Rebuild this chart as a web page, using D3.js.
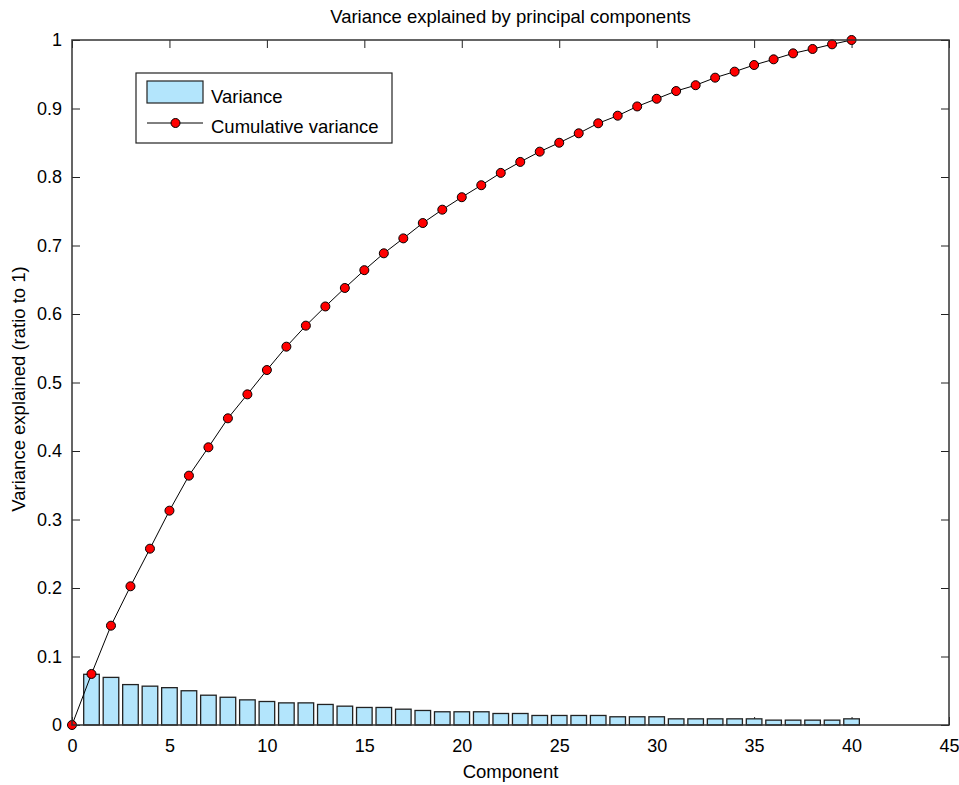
<!DOCTYPE html>
<html lang="en">
<head>
<meta charset="UTF-8">
<script src="https://d3js.org/d3.v7.min.js"></script>
<title>Variance explained</title>
<style>
    body { margin: 0; background: #fff; }
    text { font-family: "Liberation Sans", Arial, sans-serif; fill: #000; }
    .tick text { font-size: 18px; font-family: "Liberation Sans", Arial, sans-serif; }
</style>
</head>
<body>
<script>
    // per-component variance (bars)
    var variance = [0.0740, 0.0695, 0.0590, 0.0567, 0.0545, 0.0500, 0.0435, 0.0405, 0.0367, 0.0343,
                    0.0323, 0.0323, 0.0300, 0.0275, 0.0256, 0.0256, 0.0231, 0.0212, 0.0193, 0.0193,
                    0.0193, 0.0168, 0.0168, 0.0139, 0.0139, 0.0139, 0.0139, 0.0120, 0.0120, 0.0120,
                    0.0090, 0.0090, 0.0090, 0.0090, 0.0090, 0.0071, 0.0071, 0.0071, 0.0071, 0.0090]
    // cumulative variance (line), component 0..40
    var cumulative = [0, 0.0745, 0.145, 0.2025, 0.2574, 0.3129, 0.364, 0.4054, 0.4477, 0.4827, 0.5182,
                      0.5523, 0.583, 0.611, 0.638, 0.664, 0.6886, 0.7104, 0.7328, 0.7523, 0.7705,
                      0.788, 0.806, 0.822, 0.837, 0.850, 0.8638, 0.8784, 0.8895, 0.903, 0.9142,
                      0.9255, 0.934, 0.945, 0.9538, 0.9635, 0.9718, 0.9805, 0.9869, 0.9937, 1.0]
    var xTicks = [0, 5, 10, 15, 20, 25, 30, 35, 40, 45]
    var yTicks = [0, 0.1, 0.2, 0.3, 0.4, 0.5, 0.6, 0.7, 0.8, 0.9, 1]
    var legendLabels = ["Variance", "Cumulative variance"]

    var width = 959, height = 785
    var padding = { top: 40, right: 10, bottom: 60, left: 72 }
    var plotW = 949 - padding.left
    var plotH = 725 - padding.top
    var tickLen = 8

    var svg = d3.select("body").append("svg")
        .attr("width", width)
        .attr("height", height)

    var xScale = d3.scaleLinear().domain([0, 45]).range([0, plotW])
    var yScale = d3.scaleLinear().domain([0, 1]).range([plotH, 0])

    var g = svg.append("g")
        .attr("transform", "translate(" + padding.left + "," + padding.top + ")")

    var fmt = function (d) { return d3.format("~g")(d) }

    // inward ticks on all four sides (drawn first, bars cover them)
    g.append("g").attr("transform", "translate(0," + plotH + ")")
        .call(d3.axisBottom(xScale).tickValues(xTicks).tickFormat(fmt).tickSizeInner(-tickLen).tickSizeOuter(0).tickPadding(14))
    g.append("g")
        .call(d3.axisTop(xScale).tickValues(xTicks).tickFormat("").tickSizeInner(-tickLen).tickSizeOuter(0))
    g.append("g")
        .call(d3.axisLeft(yScale).tickValues(yTicks).tickFormat(fmt).tickSizeInner(-tickLen).tickSizeOuter(0).tickPadding(10))
    g.append("g").attr("transform", "translate(" + plotW + ",0)")
        .call(d3.axisRight(yScale).tickValues(yTicks).tickFormat("").tickSizeInner(-tickLen).tickSizeOuter(0))
    g.selectAll(".domain").remove()
    g.selectAll(".tick line").attr("stroke", "#222")

    // bars
    var barW = xScale(0.8) - xScale(0)
    g.selectAll("rect.bar")
        .data(variance)
        .enter().append("rect")
        .attr("class", "bar")
        .attr("x", function (d, i) { return xScale(i + 1) - barW / 2 })
        .attr("y", function (d) { return yScale(d) })
        .attr("width", barW)
        .attr("height", function (d) { return plotH - yScale(d) })
        .attr("fill", "#b3e5fc")
        .attr("stroke", "#222")
        .attr("stroke-width", 1.3)

    // cumulative line + markers
    var line = d3.line()
        .x(function (d, i) { return xScale(i) })
        .y(function (d) { return yScale(d) })
    g.append("path")
        .datum(cumulative)
        .attr("d", line)
        .attr("fill", "none")
        .attr("stroke", "#000")
        .attr("stroke-width", 1)
    g.selectAll("circle.pt")
        .data(cumulative)
        .enter().append("circle")
        .attr("class", "pt")
        .attr("cx", function (d, i) { return xScale(i) })
        .attr("cy", function (d) { return yScale(d) })
        .attr("r", 4.5)
        .attr("fill", "#ff0000")
        .attr("stroke", "#000")
        .attr("stroke-width", 1)

    // axes box
    g.append("rect")
        .attr("width", plotW).attr("height", plotH)
        .attr("fill", "none").attr("stroke", "#333").attr("stroke-width", 1.5)

    // legend
    var leg = svg.append("g").attr("transform", "translate(136,73)")
    leg.append("rect").attr("width", 256).attr("height", 70)
        .attr("fill", "#fff").attr("stroke", "#222").attr("stroke-width", 1.2)
    leg.append("rect").attr("x", 11).attr("y", 8).attr("width", 56).attr("height", 22)
        .attr("fill", "#b3e5fc").attr("stroke", "#222").attr("stroke-width", 1.2)
    leg.append("line").attr("x1", 11).attr("x2", 67).attr("y1", 50).attr("y2", 50)
        .attr("stroke", "#000")
    leg.append("circle").attr("cx", 39.5).attr("cy", 50).attr("r", 4.5)
        .attr("fill", "#ff0000").attr("stroke", "#000")
    leg.selectAll("text.lbl")
        .data(legendLabels)
        .enter().append("text")
        .attr("x", 75)
        .attr("y", function (d, i) { return 30 + i * 30 })
        .style("font-size", "18.5px")
        .text(function (d) { return d })

    // titles
    svg.append("text")
        .attr("x", padding.left + plotW / 2).attr("y", 23)
        .attr("text-anchor", "middle").style("font-size", "18.5px")
        .text("Variance explained by principal components")
    svg.append("text")
        .attr("x", padding.left + plotW / 2).attr("y", 778)
        .attr("text-anchor", "middle").style("font-size", "18.5px")
        .text("Component")
    svg.append("text")
        .attr("transform", "translate(25,389) rotate(-90)")
        .attr("text-anchor", "middle").style("font-size", "18.5px")
        .text("Variance explained (ratio to 1)")
</script>
</body>
</html>
